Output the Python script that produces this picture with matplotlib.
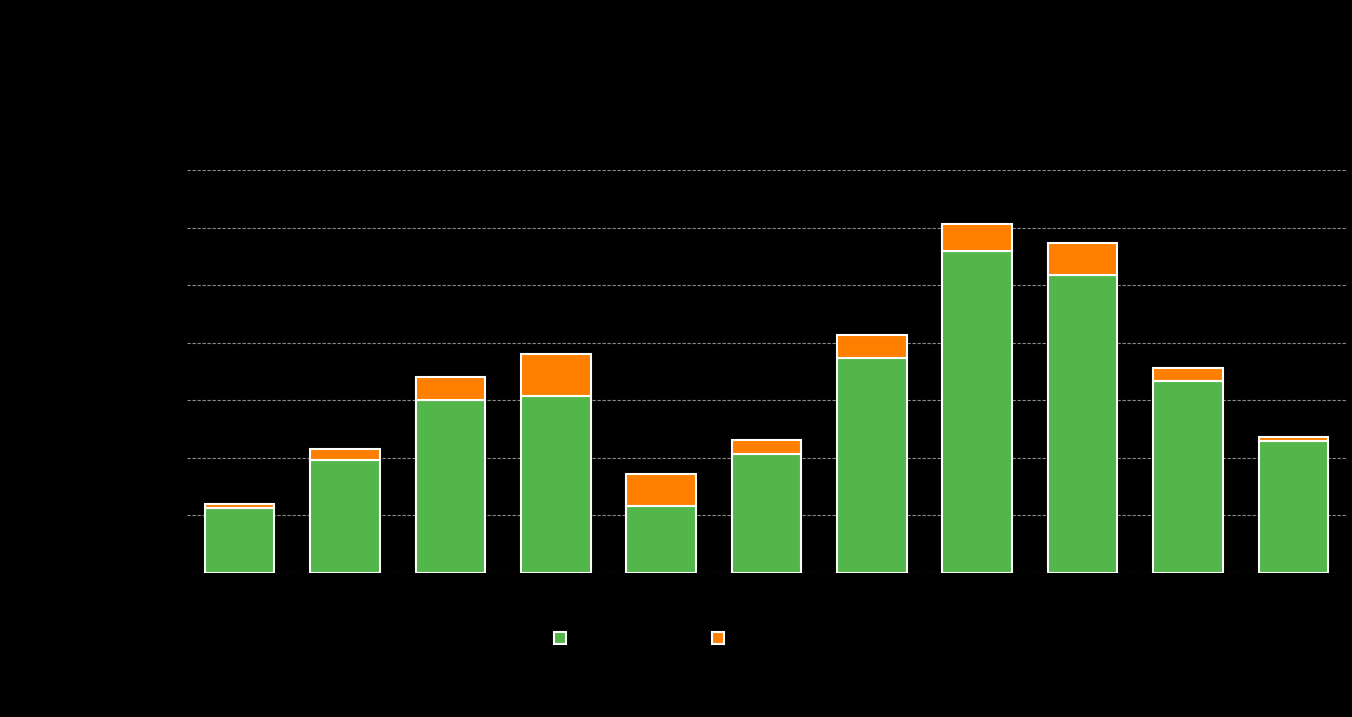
import numpy as np
import matplotlib.pyplot as plt
from matplotlib.lines import Line2D

# categories and stacked values
categories = ["1", "2", "3", "4", "5", "6", "7", "8", "9", "10", "11"]
base = [1.13, 1.96, 3.00, 3.08, 1.16, 2.06, 3.74, 5.60, 5.18, 3.34, 2.29]
top_totals = [1.20, 2.15, 3.40, 3.81, 1.72, 2.31, 4.13, 6.06, 5.74, 3.56, 2.36]
extra = [t - b for t, b in zip(top_totals, base)]
labels = ["Series A", "Series B"]

green = "#52b64a"
orange = "#ff7f00"

fig = plt.figure(figsize=(13.52, 7.17), dpi=100, facecolor="black")
ax = fig.add_axes([187 / 1352, 1 - 573 / 717, (1346 - 187) / 1352, (573 - 170) / 717])
ax.set_facecolor("black")

x = np.arange(len(categories))
ax.bar(x, base, width=0.66, color=green, edgecolor="white", linewidth=1.5, zorder=3)
ax.bar(x, extra, bottom=base, width=0.66, color=orange, edgecolor="white", linewidth=1.5, zorder=3)

ax.set_xlim(-0.5, len(categories) - 0.5)
ax.set_ylim(0, 7)
ax.set_yticks(range(0, 8))
ax.grid(axis="y", color="#8a8a8a", linestyle=(0, (3, 1.5)), linewidth=0.8, zorder=0)
ax.set_xticks(x)
ax.set_xticklabels(categories, color="black")
ax.tick_params(colors="black", length=0)
for s in ax.spines.values():
    s.set_visible(False)

handles = [
    Line2D([], [], marker="s", linestyle="none", markersize=8, markerfacecolor=green, markeredgecolor="white", markeredgewidth=1.5),
    Line2D([], [], marker="s", linestyle="none", markersize=8, markerfacecolor=orange, markeredgecolor="white", markeredgewidth=1.5),
]
leg = fig.legend(handles, labels, loc="center left", bbox_to_anchor=(538 / 1352, 1 - 639 / 717),
                 ncol=2, frameon=False, fontsize=12, handlelength=0.8, handletextpad=0.5,
                 columnspacing=4.15, labelcolor="black")

plt.savefig("out.png", dpi=100, facecolor="black")
